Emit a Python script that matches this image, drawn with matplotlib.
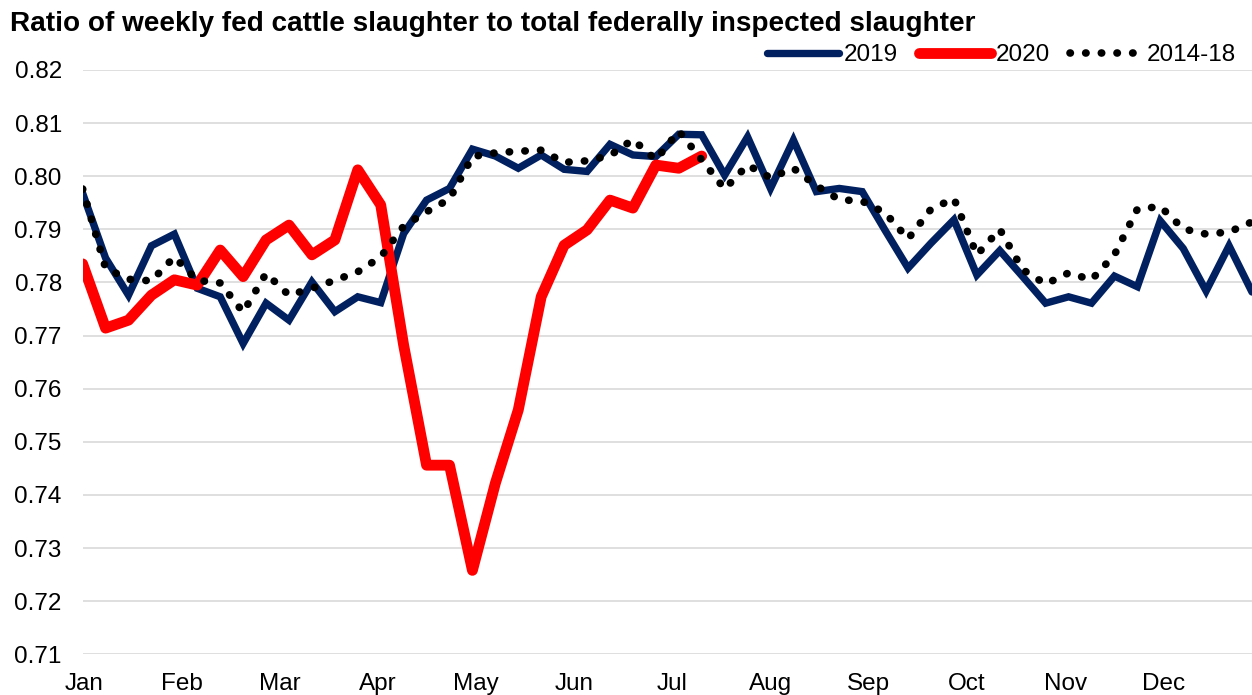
import numpy as np
import matplotlib
matplotlib.use("Agg")
import matplotlib.pyplot as plt

TITLE = "Ratio of weekly fed cattle slaughter to total federally inspected slaughter"
MONTHS = ["Jan", "Feb", "Mar", "Apr", "May", "Jun",
          "Jul", "Aug", "Sep", "Oct", "Nov", "Dec"]

# weekly ratios, week 1..52
Y2019 = [0.7968, 0.7846, 0.7776, 0.7869, 0.7891, 0.7789, 0.7773, 0.7685,
         0.7761, 0.7729, 0.7801, 0.7745, 0.7773, 0.7762, 0.7892, 0.7955,
         0.7977, 0.8051, 0.8038, 0.8015, 0.8040, 0.8013, 0.8009, 0.8060,
         0.8040, 0.8037, 0.8079, 0.8078, 0.8002, 0.8074, 0.7977, 0.8068,
         0.7971, 0.7977, 0.7971, 0.7898, 0.7827, 0.7874, 0.7918, 0.7814,
         0.7860, 0.7811, 0.7761, 0.7773, 0.7761, 0.7812, 0.7792, 0.7916,
         0.7864, 0.7784, 0.7869, 0.7782]
Y2020 = [0.7835, 0.7714, 0.7729, 0.7776, 0.7805, 0.7795, 0.7861, 0.7811,
         0.7880, 0.7908, 0.7852, 0.7880, 0.8012, 0.7946, 0.7682, 0.7456,
         0.7456, 0.7258, 0.7422, 0.7560, 0.7773, 0.7870, 0.7899, 0.7955,
         0.7940, 0.8021, 0.8015, 0.8038]
Y1418 = [0.7976, 0.7827, 0.7806, 0.7803, 0.7848, 0.7804, 0.7799, 0.7744,
         0.7817, 0.7776, 0.7789, 0.7804, 0.7820, 0.7848, 0.7906, 0.7933,
         0.7957, 0.8037, 0.8044, 0.8047, 0.8049, 0.8026, 0.8029, 0.8039,
         0.8069, 0.8031, 0.8085, 0.8031, 0.7976, 0.8021, 0.7997, 0.8015,
         0.7982, 0.7956, 0.7953, 0.7931, 0.7882, 0.7938, 0.7958, 0.7852,
         0.7900, 0.7824, 0.7797, 0.7818, 0.7805, 0.7852, 0.7938, 0.7943,
         0.7901, 0.7891, 0.7895, 0.7914]

plt.rcParams["font.family"] = ["Liberation Sans", "DejaVu Sans"]

fig = plt.figure(figsize=(12.52, 6.95), dpi=100)
ax = fig.add_axes([0.066, 0.0586, 0.934, 0.8407])

ax.plot(np.arange(len(Y2019)), Y2019, color="#002060", linewidth=5.3,
        solid_joinstyle="miter", solid_capstyle="round", label="2019", zorder=3)
ax.plot(np.arange(len(Y2020)), Y2020, color="#FF0000", linewidth=7.8,
        solid_joinstyle="round", solid_capstyle="round", label="2020", zorder=4)
ax.plot(np.arange(len(Y1418)), Y1418, color="black", linewidth=5.5,
        linestyle=(0, (0.05, 2.0)), dash_capstyle="round", label="2014-18",
        zorder=5)

ax.set_xlim(0, 51)
ax.set_ylim(0.71, 0.82)
ax.set_yticks(np.arange(0.71, 0.8201, 0.01))
ax.yaxis.set_major_formatter(matplotlib.ticker.FormatStrFormatter("%.2f"))
ax.set_xticks(np.arange(12) * 4.28 + 0.05)
ax.set_xticklabels(MONTHS)
ax.tick_params(axis="both", length=0, labelsize=17.5, colors="black")
ax.tick_params(axis="y", pad=15)
ax.tick_params(axis="x", pad=13.5)
ax.grid(axis="y", color="#D9D9D9", linewidth=1.2)
ax.set_axisbelow(True)
for s in ax.spines.values():
    s.set_visible(False)

fig.text(10 / 1252, 1 - 24 / 695, TITLE, fontsize=20.1, fontweight="bold",
         ha="left", va="center")

fig.legend(loc="center right", bbox_to_anchor=(1236 / 1252, 1 - 55 / 695),
           ncol=3, frameon=False, fontsize=17.5, handlelength=2.95,
           handletextpad=0.2, columnspacing=0.85, borderpad=0, borderaxespad=0)

fig.savefig("out.png", dpi=100)
